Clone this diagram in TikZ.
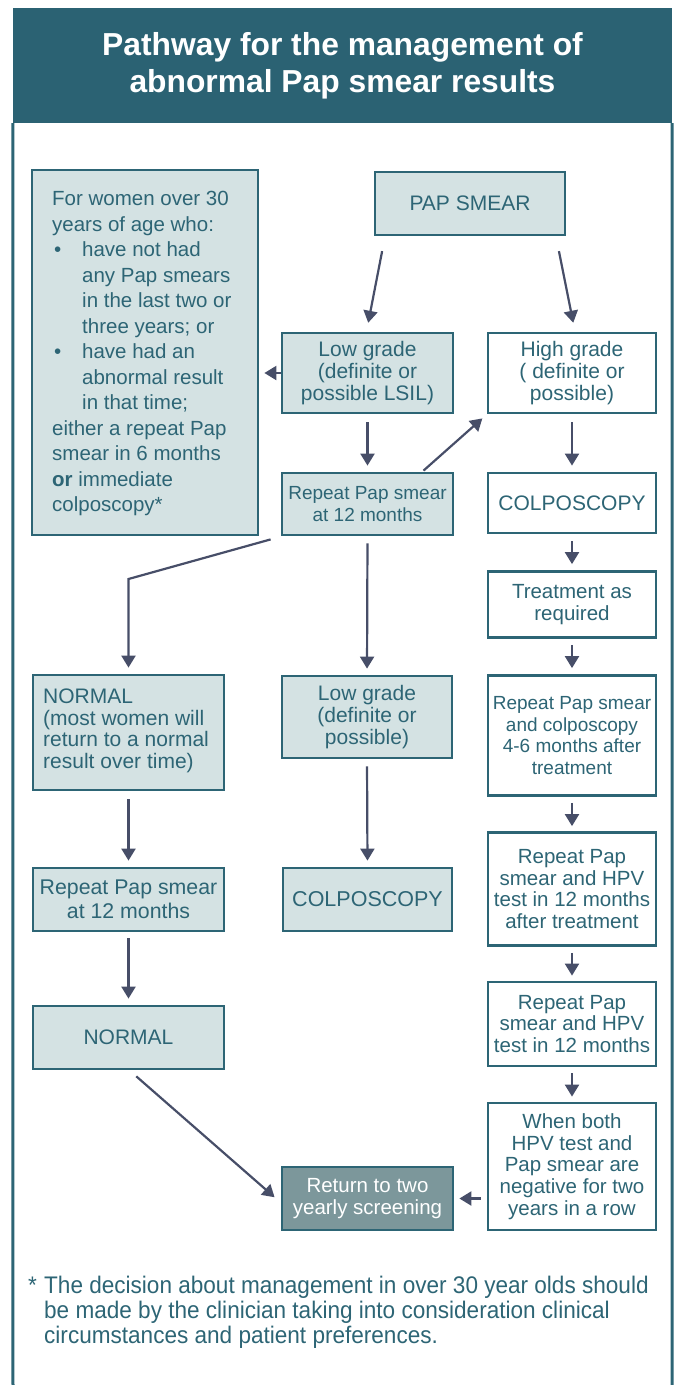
\documentclass[tikz,border=0pt]{standalone}
\usepackage{fontspec}
\setmainfont{Liberation Sans}
\newfontfamily\condfont[FakeStretch=0.94]{Liberation Sans}
\usetikzlibrary{arrows.meta,calc}
\definecolor{pteal}{HTML}{2D6575}
\definecolor{phead}{HTML}{2B6273}
\definecolor{plight}{HTML}{D4E2E3}
\definecolor{parrow}{HTML}{474E68}
\definecolor{pret}{HTML}{7C979B}
\begin{document}
\begin{tikzpicture}[x=1pt,y=-1pt,
  box/.style={draw=pteal, line width=2.8pt, text=pteal, align=center, inner sep=0pt,
    font=\fontsize{21}{21.7}\selectfont},
  lbox/.style={box, fill=plight},
  wbox/.style={box, fill=white},
  colw/.style={minimum width=168pt},
  midw/.style={minimum width=171pt},
  leftw/.style={minimum width=191pt},
  arr/.style={draw=parrow, line width=2.2pt, -{Triangle[width=14pt,length=12pt]}},
  frame/.style={draw=pteal, line width=3pt},
]
\useasboundingbox (0,0) rectangle (675,1385);

% title band
\node[fill=phead, minimum width=659pt, minimum height=115pt, inner sep=0pt,
  text=white, align=center, font=\bfseries\fontsize{31.8}{37}\selectfont]
  (title) at (342.5,65.5) {Pathway for the management of\\abnormal Pap smear results};
\coordinate (fl) at (13,1385);
\coordinate (fr) at (672,1385);
\draw[frame] (title.south west) -- (fl);
\draw[frame] (title.south east) -- (fr);

% left information box
\node[lbox, minimum width=226pt, minimum height=365pt] (info) at (145,352.5) {};
\node[anchor=north west, align=left, text=pteal, inner sep=0pt,
  font=\fontsize{20.5}{25.5}\selectfont] (infotxt) at (52,191)
  {For women over 30\\
   years of age who:\\
   \makebox[30pt][l]{\hspace*{2pt}\textbullet}have not had\\
   \hspace*{30pt}any Pap smears\\
   \hspace*{30pt}in the last two or\\
   \hspace*{30pt}three years; or\\
   \makebox[30pt][l]{\hspace*{2pt}\textbullet}have had an\\
   \hspace*{30pt}abnormal result\\
   \hspace*{30pt}in that time;\\
   either a repeat Pap\\
   smear in 6 months\\
   {\bfseries or} immediate\\
   colposcopy*};

% boxes
\node[lbox, minimum width=190pt, minimum height=63pt] (pap) at (470,203.5) {PAP SMEAR};
\node[lbox, midw, minimum height=80pt] (low1) at (367.5,373) {Low grade\\(definite or\\possible LSIL)};
\node[wbox, colw, minimum height=80pt] (high) at (572,373) {High grade\\( definite or\\possible)};
\node[lbox, midw, minimum height=62pt, font=\fontsize{19}{22}\selectfont] (rep1) at (367.5,504) {Repeat Pap smear\\at 12 months};
\node[wbox, colw, minimum height=60pt] (colp1) at (572,503) {COLPOSCOPY};
\node[wbox, colw, minimum height=66pt, font=\fontsize{20.5}{22}\selectfont] (treat) at (572,604.5) {Treatment as\\required};
\node[wbox, colw, minimum height=120pt, font=\fontsize{19}{21.7}\selectfont] (rep46) at (572,735.5) {Repeat Pap smear\\and colposcopy\\4-6 months after\\treatment};
\node[wbox, colw, minimum height=113pt, font=\fontsize{20.5}{21.5}\selectfont] (hpv1) at (572,889) {Repeat Pap\\smear and HPV\\test in 12 months\\after treatment};
\node[wbox, colw, minimum height=84pt, font=\fontsize{20.5}{21.8}\selectfont] (hpv2) at (572,1024) {Repeat Pap\\smear and HPV\\test in 12 months};
\node[wbox, colw, minimum height=127pt, font=\fontsize{20.5}{21.7}\selectfont] (both) at (572,1166.5) {When both\\HPV test and\\Pap smear are\\negative for two\\years in a row};
\node[box, fill=pret, text=white, midw, minimum height=63pt, font=\fontsize{20.5}{22}\selectfont] (ret) at (367.5,1198.5) {Return to two\\yearly screening};

\node[lbox, leftw, minimum height=115pt] (norm1) at (128.5,732.5) {};
\node[anchor=west, align=left, text=pteal, inner sep=0pt,
  font=\fontsize{21}{21.6}\selectfont] (norm1txt) at (43,731)
  {NORMAL\\(most women will\\return to a normal\\result over time)};
\node[lbox, minimum width=170pt, minimum height=82pt] (low2) at (367,717) {Low grade\\(definite or\\possible)};
\node[lbox, leftw, minimum height=63pt, font=\fontsize{21.3}{24}\selectfont] (rep2) at (128.5,899.5) {Repeat Pap smear\\at 12 months};
\node[lbox, minimum width=169pt, minimum height=63pt, font=\fontsize{21.5}{22}\selectfont] (colp2) at (367.5,899.5) {COLPOSCOPY};
\node[lbox, leftw, minimum height=63pt] (norm2) at (128.5,1037.5) {NORMAL};

% footnote
\node[anchor=north west, align=left, text=pteal, inner sep=0pt,
  font=\condfont\fontsize{24}{25}\selectfont] (foot) at (28,1276)
  {\makebox[16pt][l]{*}The decision about management in over 30 year olds should\\
   \hspace*{16pt}be made by the clinician taking into consideration clinical\\
   \hspace*{16pt}circumstances and patient preferences.};

% connectors
\coordinate (bend) at (128.5,579);
\draw[arr, shorten <=15pt, shorten >=9pt] ($(pap.south)+(-85,0)$) -- ($(low1.north)+(-1,0)$);
\draw[arr, shorten <=15pt, shorten >=9pt] ($(pap.south)+(86,0)$) -- ($(high.north)+(3,0)$);
\draw[arr, shorten >=5pt] (low1.west) -- (info.east |- low1.west);
\draw[arr, shorten <=8pt, shorten >=6pt] (low1.south) -- (rep1.north);
\draw[arr, shorten >=3pt] ($(rep1.north)+(56,-1)$) -- ($(high.south west)+(-2,2)$);
\draw[arr, shorten <=8pt, shorten >=6pt] (high.south) -- (colp1.north);
\draw[arr, shorten <=7pt, shorten >=6pt] (colp1.south) -- (treat.north);
\draw[arr, shorten <=6pt, shorten >=6pt] (treat.south) -- (rep46.north);
\draw[arr, shorten <=6pt, shorten >=5pt] (rep46.south) -- (hpv1.north);
\draw[arr, shorten <=6pt, shorten >=5pt] (hpv1.south) -- (hpv2.north);
\draw[arr, shorten <=6pt, shorten >=5pt] (hpv2.south) -- (both.north);
\draw[arr, shorten <=6pt, shorten >=5pt] (both.west |- ret.east) -- (ret.east);
\draw[arr, shorten >=6pt] ($(rep1.south west)+(-10,3)$) -- (bend) -- (norm1.north);
\draw[arr, shorten <=7pt, shorten >=6pt] (rep1.south) -- (low2.north);
\draw[arr, shorten <=8pt, shorten >=6pt] (norm1.south) -- (rep2.north);
\draw[arr, shorten <=7pt, shorten >=6pt] (low2.south) -- (colp2.north);
\draw[arr, shorten <=6pt, shorten >=6pt] (rep2.south) -- (norm2.north);
\draw[arr, shorten <=9pt, shorten >=8pt] ($(norm2.south)+(1,0)$) -- ($(ret.west)+(0,4)$);
\end{tikzpicture}
\end{document}
